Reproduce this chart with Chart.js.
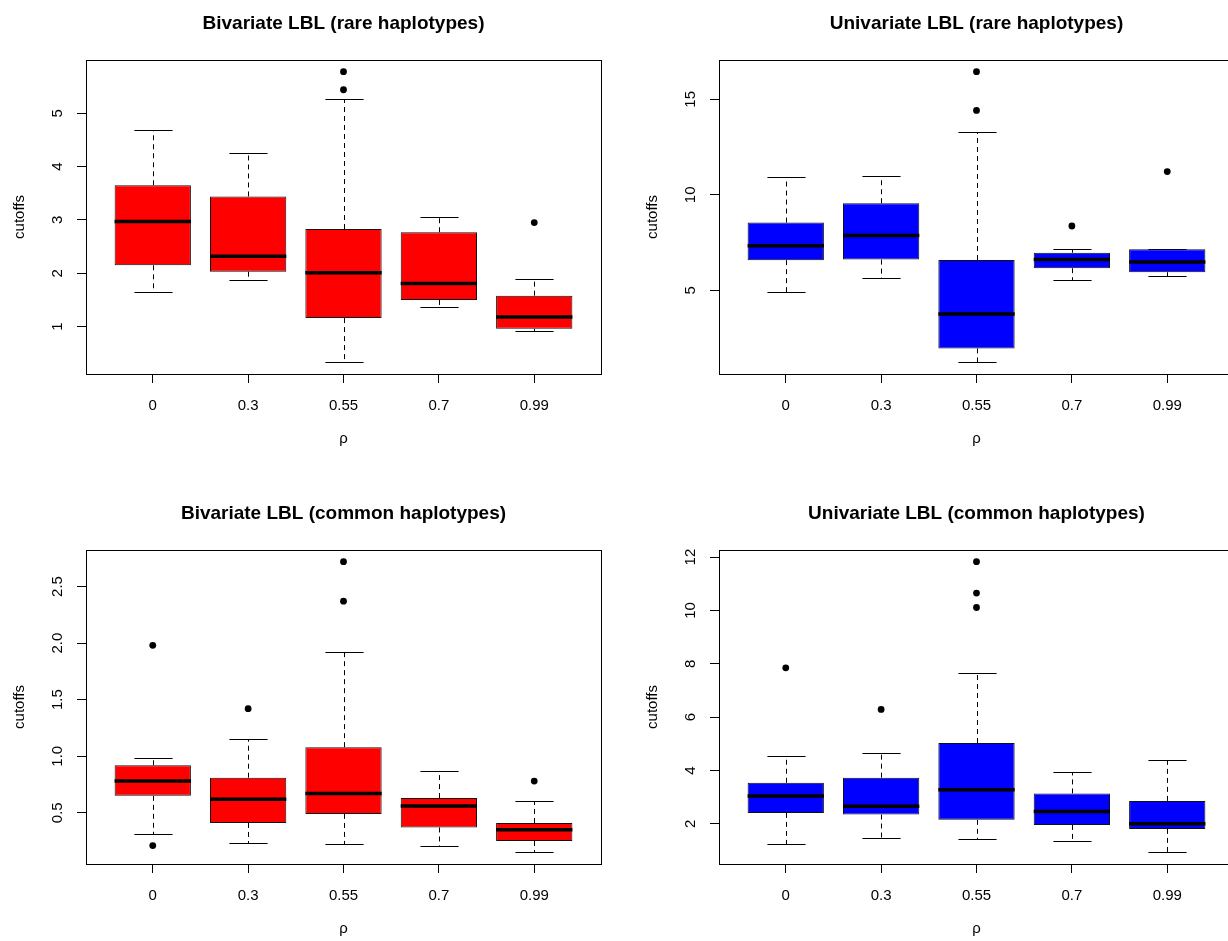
<!DOCTYPE html>
<html>
<head>
<meta charset="utf-8">
<title>LBL cutoffs</title>
<script src="https://cdn.jsdelivr.net/npm/chart.js@4.4.1/dist/chart.umd.min.js"></script>
<style>
  html, body { margin: 0; padding: 0; background: #fff; overflow: hidden; }
  body { width: 1228px; height: 941px; position: relative; }
  .panel { position: absolute; width: 614px; height: 470px; }
  #p1 { left: 0; top: 0; }
  #p2 { left: 633px; top: 0; }
  #p3 { left: 0; top: 490px; }
  #p4 { left: 633px; top: 490px; }
</style>
</head>
<body>
<div class="panel" id="p1"><canvas id="bivRare" width="614" height="470"></canvas></div>
<div class="panel" id="p2"><canvas id="uniRare" width="614" height="470"></canvas></div>
<div class="panel" id="p3"><canvas id="bivCommon" width="614" height="470"></canvas></div>
<div class="panel" id="p4"><canvas id="uniCommon" width="614" height="470"></canvas></div>

<script>
const rho = ['0', '0.3', '0.55', '0.7', '0.99']

// Bivariate LBL (rare haplotypes)
const bivRareLow = [1.64, 1.87, 0.33, 1.36, 0.91]
const bivRareQ1 = [2.15, 2.03, 1.16, 1.50, 0.96]
const bivRareMed = [2.97, 2.32, 2.01, 1.81, 1.18]
const bivRareQ3 = [3.65, 3.44, 2.83, 2.77, 1.58]
const bivRareHigh = [4.68, 4.25, 5.26, 3.06, 1.89]
const bivRareOut = [[], [], [5.44, 5.78], [], [2.95]]
const bivRareTicks = [1, 2, 3, 4, 5]

// Univariate LBL (rare haplotypes)
const uniRareLow = [4.90, 5.65, 1.23, 5.54, 5.77]
const uniRareQ1 = [6.58, 6.61, 1.96, 6.16, 5.95]
const uniRareMed = [7.33, 7.87, 3.76, 6.61, 6.49]
const uniRareQ3 = [8.55, 9.56, 6.59, 6.97, 7.15]
const uniRareHigh = [10.93, 11.01, 13.27, 7.17, 7.18]
const uniRareOut = [[], [], [14.42, 16.45], [8.37], [11.22]]
const uniRareTicks = [5, 10, 15]

// Bivariate LBL (common haplotypes)
const bivCommonLow = [0.31, 0.23, 0.22, 0.21, 0.15]
const bivCommonQ1 = [0.65, 0.41, 0.49, 0.37, 0.25]
const bivCommonMed = [0.78, 0.62, 0.67, 0.56, 0.35]
const bivCommonQ3 = [0.92, 0.81, 1.08, 0.63, 0.41]
const bivCommonHigh = [0.98, 1.15, 1.92, 0.87, 0.60]
const bivCommonOut = [[0.21, 1.98], [1.42], [2.37, 2.72], [], [0.78]]
const bivCommonTicks = [0.5, 1.0, 1.5, 2.0, 2.5]

// Univariate LBL (common haplotypes)
const uniCommonLow = [1.25, 1.48, 1.44, 1.36, 0.93]
const uniCommonQ1 = [2.41, 2.35, 2.15, 1.96, 1.81]
const uniCommonMed = [3.04, 2.66, 3.28, 2.46, 2.00]
const uniCommonQ3 = [3.54, 3.73, 5.03, 3.14, 2.86]
const uniCommonHigh = [4.56, 4.65, 7.66, 3.93, 4.41]
const uniCommonOut = [[7.85], [6.29], [10.11, 10.65, 11.83], [], []]
const uniCommonTicks = [2, 4, 6, 8, 10, 12]

const FONT = '"Liberation Sans", Arial, Helvetica, sans-serif'

// whiskers, caps, medians, frame and R-style labels, all placed through the chart scales
const boxExtras = {
  id: 'boxExtras',
  beforeDatasetsDraw(chart) {
    const b = chart.options.plugins.boxExtras
    const x = chart.scales.x
    const y = chart.scales.y
    const bars = chart.getDatasetMeta(0).data
    const ctx = chart.ctx
    ctx.save()
    ctx.strokeStyle = '#000'
    ctx.lineWidth = 1
    b.low.forEach((lo, i) => {
      const px = Math.round(x.getPixelForValue(i + 1)) + 0.5
      const half = bars[i].width / 2
      const yHigh = Math.round(y.getPixelForValue(b.high[i])) + 0.5
      const yLow = Math.round(y.getPixelForValue(lo)) + 0.5
      ctx.setLineDash([5, 4])
      ctx.beginPath()
      ctx.moveTo(px, y.getPixelForValue(b.q3[i]))
      ctx.lineTo(px, yHigh)
      ctx.moveTo(px, y.getPixelForValue(b.q1[i]))
      ctx.lineTo(px, yLow)
      ctx.stroke()
      ctx.setLineDash([])
      ctx.beginPath()
      ctx.moveTo(px - half / 2, yHigh)
      ctx.lineTo(px + half / 2, yHigh)
      ctx.moveTo(px - half / 2, yLow)
      ctx.lineTo(px + half / 2, yLow)
      ctx.stroke()
    })
    ctx.restore()
  },
  afterDatasetsDraw(chart) {
    const b = chart.options.plugins.boxExtras
    const x = chart.scales.x
    const y = chart.scales.y
    const bars = chart.getDatasetMeta(0).data
    const ctx = chart.ctx
    ctx.save()
    ctx.strokeStyle = '#000'
    ctx.lineWidth = 3.5
    b.med.forEach((m, i) => {
      const px = x.getPixelForValue(i + 1)
      const half = bars[i].width / 2
      const py = y.getPixelForValue(m)
      ctx.beginPath()
      ctx.moveTo(px - half, py)
      ctx.lineTo(px + half, py)
      ctx.stroke()
    })
    ctx.restore()
  },
  afterDraw(chart) {
    const b = chart.options.plugins.boxExtras
    const x = chart.scales.x
    const y = chart.scales.y
    const area = chart.chartArea
    const ctx = chart.ctx
    ctx.save()
    ctx.strokeStyle = '#000'
    ctx.lineWidth = 1
    ctx.strokeRect(area.left + 0.5, area.top + 0.5, area.right - area.left, area.bottom - area.top)

    const midX = x.getPixelForValue(3)
    ctx.fillStyle = '#000'
    ctx.textAlign = 'center'
    ctx.textBaseline = 'middle'

    ctx.font = 'bold 19px ' + FONT
    ctx.fillText(b.title, midX, 24)

    ctx.font = '15px ' + FONT
    rho.forEach((lab, i) => {
      ctx.fillText(lab, x.getPixelForValue(i + 1), area.bottom + 32)
    })
    ctx.fillText('ρ', midX, area.bottom + 65)

    b.ticks.forEach((t) => {
      ctx.save()
      ctx.translate(area.left - 28, y.getPixelForValue(t))
      ctx.rotate(-Math.PI / 2)
      ctx.fillText(t.toFixed(b.digits), 0, 0)
      ctx.restore()
    })
    ctx.save()
    ctx.translate(20, (area.top + area.bottom) / 2)
    ctx.rotate(-Math.PI / 2)
    ctx.fillText('cutoffs', 0, 0)
    ctx.restore()
    ctx.restore()
  }
}

function boxplot(id, title, color, low, q1, med, q3, high, out, ticks, digits) {
  const all = low.concat(high, out.flat())
  const lo = Math.min(...all)
  const hi = Math.max(...all)
  const pad = (hi - lo) * 0.04

  const outliers = []
  out.forEach((vals, i) => vals.forEach((v) => outliers.push({ x: i + 1, y: v })))

  new Chart(document.getElementById(id), {
    type: 'bar',
    data: {
      datasets: [{
        data: rho.map((_, i) => ({ x: i + 1, y: [q1[i], q3[i]] })),
        backgroundColor: color,
        borderColor: '#111',
        borderWidth: 1,
        borderSkipped: false,
        barPercentage: 0.8,
        categoryPercentage: 1
      }, {
        type: 'scatter',
        data: outliers,
        pointRadius: 3.4,
        pointBackgroundColor: '#000',
        pointBorderWidth: 0
      }]
    },
    options: {
      responsive: false,
      animation: false,
      layout: { padding: { top: 60, right: 13, left: 0, bottom: 0 } },
      plugins: {
        legend: { display: false },
        tooltip: { enabled: false },
        boxExtras: { title, low, q1, med, q3, high, ticks, digits }
      },
      scales: {
        x: {
          type: 'linear',
          min: 0.3,
          max: 5.7,
          offset: false,
          afterBuildTicks: (scale) => { scale.ticks = rho.map((_, i) => ({ value: i + 1 })) },
          afterFit: (scale) => { scale.height = 96 },
          ticks: { display: false, autoSkip: false },
          grid: { offset: false, drawOnChartArea: false, tickLength: 9, color: '#000', tickColor: '#000' },
          border: { display: false }
        },
        y: {
          beginAtZero: false,
          min: lo - pad,
          max: hi + pad,
          afterBuildTicks: (scale) => { scale.ticks = ticks.map((v) => ({ value: v })) },
          afterFit: (scale) => { scale.width = 86 },
          ticks: { display: false, autoSkip: false },
          grid: { drawOnChartArea: false, tickLength: 9, color: '#000', tickColor: '#000' },
          border: { display: false }
        }
      }
    },
    plugins: [boxExtras]
  })
}

boxplot('bivRare', 'Bivariate LBL (rare haplotypes)', '#ff0000',
  bivRareLow, bivRareQ1, bivRareMed, bivRareQ3, bivRareHigh, bivRareOut, bivRareTicks, 0)
boxplot('uniRare', 'Univariate LBL (rare haplotypes)', '#0000ff',
  uniRareLow, uniRareQ1, uniRareMed, uniRareQ3, uniRareHigh, uniRareOut, uniRareTicks, 0)
boxplot('bivCommon', 'Bivariate LBL (common haplotypes)', '#ff0000',
  bivCommonLow, bivCommonQ1, bivCommonMed, bivCommonQ3, bivCommonHigh, bivCommonOut, bivCommonTicks, 1)
boxplot('uniCommon', 'Univariate LBL (common haplotypes)', '#0000ff',
  uniCommonLow, uniCommonQ1, uniCommonMed, uniCommonQ3, uniCommonHigh, uniCommonOut, uniCommonTicks, 0)
</script>
</body>
</html>
